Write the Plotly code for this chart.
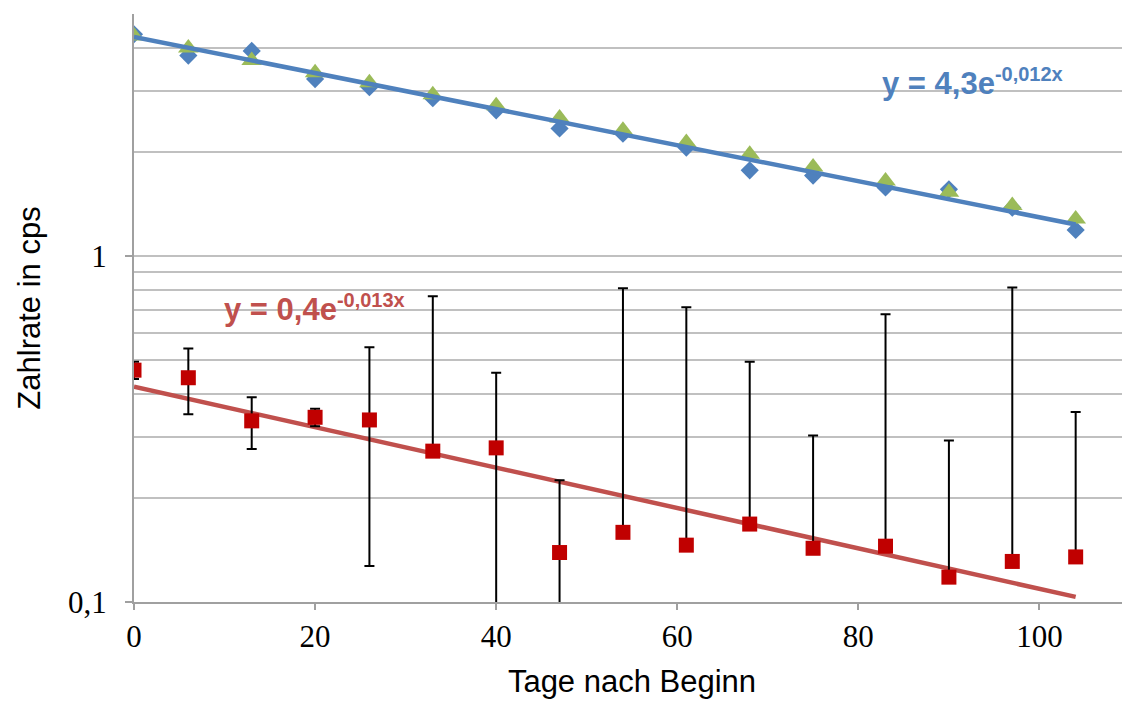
import numpy as np
import plotly.graph_objects as go

# ---- data ----
days = [0, 6, 13, 20, 26, 33, 40, 47, 54, 61, 68, 75, 83, 90, 97, 104]
rate_blue = [4.38, 3.80, 3.92, 3.25, 3.08, 2.86, 2.64, 2.34, 2.26, 2.06, 1.77, 1.71, 1.58, 1.56, 1.38, 1.19]
rate_green = [4.33, 4.00, 3.68, 3.39, 3.17, 2.93, 2.72, 2.51, 2.31, 2.13, 1.97, 1.81, 1.65, 1.53, 1.40, 1.28]
rate_red = [0.468, 0.445, 0.334, 0.342, 0.336, 0.273, 0.279, 0.139, 0.159, 0.146, 0.168, 0.143, 0.145, 0.118, 0.131, 0.135]
err_red = [0.027, 0.096, 0.057, 0.020, 0.209, 0.492, 0.181, 0.086, 0.649, 0.565, 0.327, 0.160, 0.534, 0.175, 0.681, 0.219]

trend_blue = (4.3, -0.012)      # y = a * exp(b x)
trend_red = (0.419, -0.01345)
trend_days = [0, 104]

label_blue = "<b>y = 4,3e<sup><span style='font-size:20px'>-0,012x</span></sup></b>"
label_red = "<b>y = 0,4e<sup><span style='font-size:20px'>-0,013x</span></sup></b>"

x_tickvals = [0, 20, 40, 60, 80, 100]
y_tickvals = [0.1, 1]
y_ticktext = ["0,1", "1"]

x_title = "Tage nach Beginn"
y_title = "Zahlrate in cps"

# ---- derived ----
rr = np.array(rate_red)
ee = np.array(err_red)
err_minus = np.where(rr - ee > 0, ee, 0.0)   # Excel omits lower bars that go negative on a log axis

tx = np.linspace(trend_days[0], trend_days[1], 60)
ty_blue = trend_blue[0] * np.exp(trend_blue[1] * tx)
ty_red = trend_red[0] * np.exp(trend_red[1] * tx)

BLUE = "#4F81BD"
GREEN = "#9BBB59"
RED_M = "#C00000"
RED_L = "#C0504D"
GRID = "#C0C0C0"
AXIS = "#A0A0A0"

fig = go.Figure()

fig.add_trace(go.Scatter(x=tx, y=ty_red, mode="lines",
                         line=dict(color=RED_L, width=4.5), hoverinfo="skip"))
fig.add_trace(go.Scatter(x=days, y=rate_red, mode="markers",
                         marker=dict(symbol="square", size=15, color=RED_M),
                         error_y=dict(type="data", array=err_red, arrayminus=err_minus.tolist(),
                                      color="black", thickness=2, width=5)))
fig.add_trace(go.Scatter(x=days, y=rate_blue, mode="markers",
                         marker=dict(symbol="diamond", size=14, color=BLUE)))
fig.add_trace(go.Scatter(x=days, y=rate_green, mode="markers",
                         marker=dict(symbol="triangle-up", size=18, color=GREEN)))
fig.add_trace(go.Scatter(x=tx, y=ty_blue, mode="lines",
                         line=dict(color=BLUE, width=4.5), hoverinfo="skip"))

# page body has an 8px default margin, so the figure is sized to fit inside the window
fig.update_layout(
    width=1122, height=697,
    margin=dict(l=126, r=0, t=6, b=103),
    paper_bgcolor="white", plot_bgcolor="white",
    showlegend=False,
    annotations=[
        dict(text=label_blue, xref="paper", yref="paper", x=0.749, y=0.885,
             xanchor="left", yanchor="middle", showarrow=False,
             font=dict(family="Liberation Sans", size=31, color=BLUE)),
        dict(text=label_red, xref="paper", yref="paper", x=0.088, y=0.500,
             xanchor="left", yanchor="middle", showarrow=False,
             font=dict(family="Liberation Sans", size=31, color=RED_L)),
    ],
)

fig.update_xaxes(
    range=[0, 110], tickvals=x_tickvals, showgrid=False, zeroline=False,
    showline=True, linecolor=AXIS, linewidth=2, automargin=False,
    ticks="outside", ticklen=6, tickwidth=1.5, tickcolor=AXIS,
    tickfont=dict(family="Liberation Serif", size=31, color="black"),
    ticklabelstandoff=0,
    title=dict(text=x_title, font=dict(family="Liberation Sans", size=31, color="black"), standoff=17),
)

fig.update_yaxes(
    type="log", range=[-1, 0.7], tickvals=y_tickvals, ticktext=y_ticktext,
    showgrid=True, gridcolor=GRID, gridwidth=1.5, zeroline=False,
    showline=True, linecolor=AXIS, linewidth=2, automargin=False,
    ticks="outside", ticklen=7, tickwidth=1.5, tickcolor=AXIS,
    tickfont=dict(family="Liberation Serif", size=31, color="black"),
    ticklabelstandoff=12,
    minor=dict(dtick="D1", showgrid=True, gridcolor=GRID, gridwidth=1.5, ticks=""),
    title=dict(text=y_title, font=dict(family="Liberation Sans", size=31, color="black"), standoff=18),
)

fig.write_html("out.html")
